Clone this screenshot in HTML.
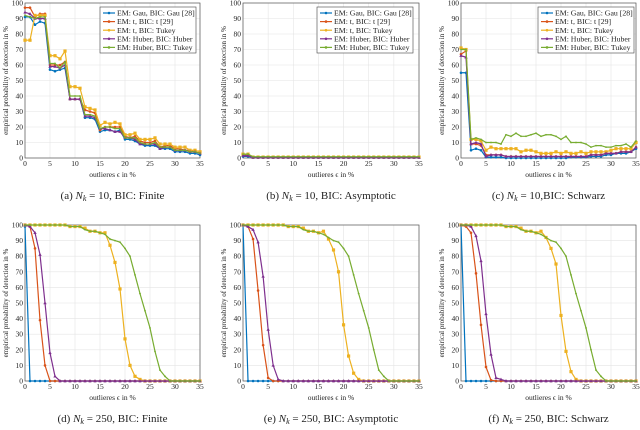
<!DOCTYPE html>
<html><head><meta charset="utf-8"><style>
body{margin:0;background:#fff;width:640px;height:425px;overflow:hidden}
svg text{font-family:"Liberation Serif",serif;fill:#222}
</style></head><body>
<svg id="fig" width="640" height="425" viewBox="0 0 640 425" xmlns="http://www.w3.org/2000/svg"></svg>
<script>
const xTicks=[0,5,10,15,20,25,30,35];
const yTicks=[0,10,20,30,40,50,60,70,80,90,100];
const seriesNames=["EM: Gau, BIC: Gau [28]","EM: t, BIC: t [29]","EM: t, BIC: Tukey","EM: Huber, BIC: Huber","EM: Huber, BIC: Tukey"];
const colors=["#0072BD","#D95319","#EDB120","#7E2F8E","#77AC30"];
const capPrefix=["(a)","(b)","(c)","(d)","(e)","(f)"];
const capN=["10","10","10","250","250","250"];
const capSuffix=[", BIC: Finite",", BIC: Asymptotic",",BIC: Schwarz",", BIC: Finite",", BIC: Asymptotic",", BIC: Schwarz"];
const z=n=>Array(n).fill(0);
const aGau=[91,91,86,88,87,57,56,57,58,38,38,38,26,26,25,17,18,18,17,18,12,12,11,9,8,8,8,6,6,6,4,4,4,3,3,2];
const aT=[97,97,91,93,93,60,60,60,62,38,38,38,31,30,29,18,20,20,20,20,14,13,14,11,10,10,11,7,8,8,6,6,5,5,4,3];
const aTT=[76,76,92,92,92,66,66,64,69,46,46,45,33,32,31,21,23,22,23,22,15,15,16,12,12,12,13,9,9,9,7,7,7,5,5,4];
const aH=[94,93,90,90,90,59,59,58,60,38,38,38,27,27,26,19,19,18,17,17,13,13,12,9,9,9,9,6,7,7,5,5,5,4,4,3];
const aHT=[92,91,90,91,91,61,61,58,62,40,40,40,28,28,27,19,20,20,19,19,13,13,13,10,9,9,10,7,7,7,5,5,5,4,4,3];
const bGau=[1,1].concat(Array(34).fill(0.3));
const bT=[2,2].concat(Array(34).fill(0.4));
const bTT=[2.5,2.5].concat(Array(34).fill(0.6));
const bH=[1.5,1.5].concat(Array(34).fill(0.3));
const bHT=[2.5,2.5].concat(Array(34).fill(0.8));
const cGau=[55,55,5,6,5,0.5,0.5,0.5,0.5,0,0,0,0,0,0,0,0,0,0,0,0,0,0.5,0.5,0.5,0.5,1,1,1,2,2,3,3,3,4,6];
const cT=[67,69,9,9,8,2,2,2,2,1,1,1,1,1,1,1,1,1,1,1,1,1,1,1,1,1,2,2,2,3,3,3,4,4,4,7];
const cTT=[71,70,12,12,11,5,7,6,6,6,6,6,4,5,5,4,3,3,3,4,3,4,3,3,4,3,4,4,4,4,5,6,6,6,6,10];
const cH=[66,65,9,10,9,1,2,2,2,1,1,1,1,1,1,1,1,1,1,1,1,1,1,1,1,1,2,2,2,3,3,3,4,4,4,7];
const cHT=[70,70,12,13,12,10,10,10,9,15,14,16,14,14,15,16,14,15,15,14,12,14,10,10,10,9,7,8,8,7,7,8,8,9,7,11];
const dGau=[99].concat(z(35));
const dT=[100,99,85,39,10].concat(z(31));
const dTT=[100,100,100,100,100,100,100,100,100,99,99,99,98,96,96,95,95,87,76,59,27,10,3,1].concat(z(12));
const dH=[100,99,95,81,50,18,3].concat(z(29));
const dHT=[100,100,100,100,100,100,100,100,100,99,99,99,97,96,96,95,94,91,90,89,85,80,68,56,45,34,19,7,3,0,0,0,0,0,0,0];
const eGau=[100].concat(z(35));
const eT=[100,99,91,58,23,2].concat(z(30));
const eTT=[100,100,100,100,100,100,100,100,100,99,99,99,98,96,96,95,96,91,84,70,36,16,5,1].concat(z(12));
const eH=[100,99,97,89,67,33,10,1].concat(z(28));
const eHT=[100,100,100,100,100,100,100,100,100,99,99,99,97,96,96,95,94,92,90,89,85,80,68,56,45,34,20,7,3,0,0,0,0,0,0,0];
const fGau=[100].concat(z(35));
const fT=[100,99,95,69,36,9,0.5].concat(z(29));
const fTT=[100,100,100,100,100,100,100,100,100,99,99,99,98,96,96,95,96,92,85,75,42,19,6,1].concat(z(12));
const fH=[100,100,99,93,77,43,17,2,1].concat(z(27));
const fHT=[100,100,100,100,100,100,100,100,100,99,99,99,97,96,96,95,94,92,90,89,85,80,68,56,45,34,20,7,3,0,0,0,0,0,0,0];
const panelData=[[aGau,aT,aTT,aH,aHT],[bGau,bT,bTT,bH,bHT],[cGau,cT,cTT,cH,cHT],[dGau,dT,dTT,dH,dHT],[eGau,eT,eTT,eH,eHT],[fGau,fT,fTT,fH,fHT]];
const NS="http://www.w3.org/2000/svg",svg=document.getElementById('fig');
function mk(t,a,p){const e=document.createElementNS(NS,t);for(const k in a)e.setAttribute(k,a[k]);(p||svg).appendChild(e);return e;}
const frames=[[25,200,3,158],[243,419,3,158],[461,636,3,158],[25,200,225,381],[243,419,225,381],[461,636,225,381]];
frames.forEach((f,pi)=>{
  const [x0,x1,yT,yB]=f;
  const g=mk('g',{});
  
  
  const X=v=>x0+(x1-x0)*v/35, Y=v=>yB-(yB-yT)*v/100;
  xTicks.forEach(t=>{mk('line',{x1:X(t),x2:X(t),y1:yT,y2:yB,stroke:'#e4e4e4','stroke-width':0.6},g);
    const tx=mk('text',{x:X(t),y:yB+8,'font-size':7.5,'text-anchor':'middle'},g);tx.textContent=t;});
  yTicks.forEach(t=>{mk('line',{x1:x0,x2:x1,y1:Y(t),y2:Y(t),stroke:'#e4e4e4','stroke-width':0.6},g);
    const tx=mk('text',{x:x0-2,y:Y(t)+2.5,'font-size':7.5,'text-anchor':'end'},g);tx.textContent=t;});
  mk('rect',{x:x0,y:yT,width:x1-x0,height:yB-yT,fill:'none',stroke:'#555','stroke-width':0.7},g);
  const xl=mk('text',{x:(x0+x1)/2,y:yB+19,'font-size':7.5,'text-anchor':'middle'},g);
  
  xl.textContent='outlieres \u03f5 in %';
  const cy=(yT+yB)/2;
  const yl=mk('text',{x:x0-17,y:cy,'font-size':7,'text-anchor':'middle',transform:`rotate(-90 ${x0-17} ${cy})`},g);
  
  yl.textContent='empirical probability of detection in %';
  const cap=mk('text',{x:(x0+x1)/2,y:yB+41,'font-size':11,'text-anchor':'middle'},g);
  
  cap.innerHTML=capPrefix[pi]+' <tspan font-style="italic">N</tspan><tspan font-style="italic" font-size="8" dy="2">k</tspan><tspan dy="-2"> = '+capN[pi]+capSuffix[pi]+'</tspan>';
  panelData[pi].forEach((s,si)=>{
    const pts=s.map((v,i)=>X(i)+','+Y(v)).join(' ');
    const pl=mk('polyline',{points:pts,fill:'none',stroke:colors[si],'stroke-width':1.2},g);
    
    s.forEach((v,i)=>{
      const cx=X(i),cyy=Y(v);
      if(si==2) mk('rect',{x:cx-1.6,y:cyy-1.6,width:3.2,height:3.2,fill:colors[si]},g);
      else if(si==3) mk('path',{d:`M${cx},${cyy-1.8}L${cx+1.7},${cyy+1.2}L${cx-1.7},${cyy+1.2}Z`,fill:colors[si]},g);
      else mk('circle',{cx:cx,cy:cyy,r:si==4?0.9:1.3,fill:colors[si]},g);
    });
  });
  if(pi<3){
    const lx=[100,317,538][pi],ly=7;
    const lg=mk('g',{},g);
    
    mk('rect',{x:lx,y:ly,width:96,height:46,fill:'#fff',stroke:'#444','stroke-width':0.6},lg);
    seriesNames.forEach((n,si)=>{
      const yy=ly+6+si*8.6;
      mk('line',{x1:lx+3,x2:lx+15,y1:yy,y2:yy,stroke:colors[si],'stroke-width':1.2},lg);
      mk('circle',{cx:lx+9,cy:yy,r:1.3,fill:colors[si]},lg);
      const t=mk('text',{x:lx+17,y:yy+2.6,'font-size':7.8},lg);
      
      t.textContent=n;
    });
  }
});
</script>
</body></html>
